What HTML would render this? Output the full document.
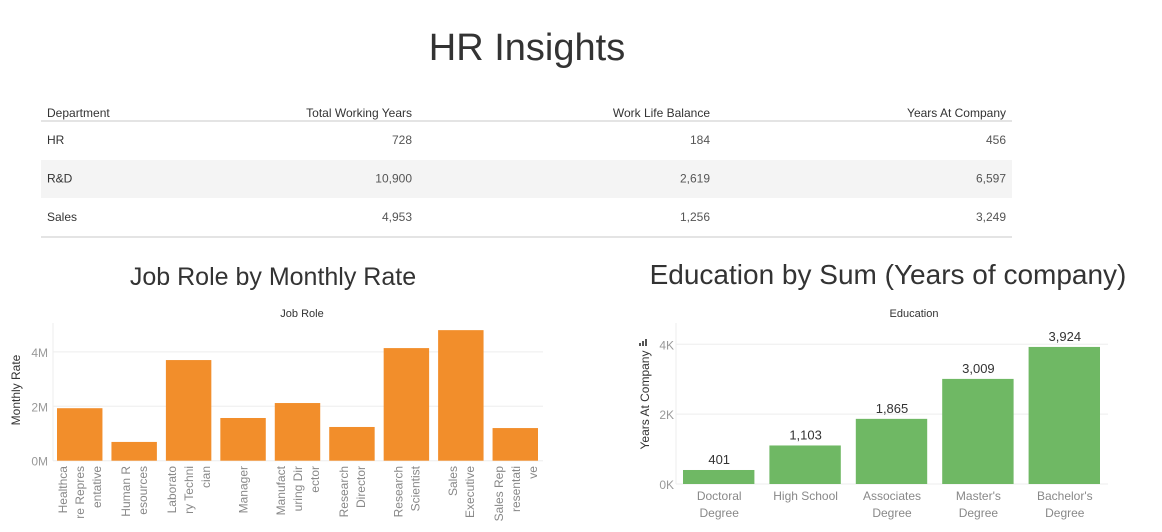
<!DOCTYPE html>
<html><head><meta charset="utf-8"><style>
body{margin:0;background:#fff;font-family:"Liberation Sans",sans-serif;}
svg text{font-family:"Liberation Sans",sans-serif;}
</style></head><body>
<svg id="s" width="1162" height="527" xmlns="http://www.w3.org/2000/svg">
<text x="527" y="60" font-size="38" fill="#333" text-anchor="middle">HR Insights</text>
<g id="tbl">
<rect x="41" y="160" width="971" height="38" fill="#f4f4f4"/>
<line x1="41" y1="121" x2="1012" y2="121" stroke="#c8c8c8"/>
<line x1="41" y1="237" x2="1012" y2="237" stroke="#c8c8c8"/>
<g font-size="12" fill="#333">
<text x="47" y="117">Department</text>
<text x="412" y="117" text-anchor="end">Total Working Years</text>
<text x="710" y="117" text-anchor="end">Work Life Balance</text>
<text x="1006" y="117" text-anchor="end">Years At Company</text>
</g>
</g>
<text x="273" y="285" font-size="25" fill="#333" text-anchor="middle">Job Role by Monthly Rate</text>
<text x="888" y="284" font-size="28" fill="#333" text-anchor="middle">Education by Sum (Years of  company)</text>
<g id="c1"></g>
<g id="c2"></g>
</svg>
<script>
const deptNames=["HR","R&D","Sales"];
const totalWorking=["728","10,900","4,953"];
const workLife=["184","2,619","1,256"];
const yearsAt=["456","6,597","3,249"];
const roleLabels=[["Healthca","re Repres","entative"],["Human R","esources"],["Laborato","ry Techni","cian"],["Manager"],["Manufact","uring Dir","ector"],["Research","Director"],["Research","Scientist"],["Sales","Executive"],["Sales Rep","resentati","ve"]];
const roleValues=[1.93,0.69,3.70,1.57,2.12,1.24,4.14,4.80,1.20];
const roleTicks=[0,2,4];
const eduLabels=[["Doctoral","Degree"],["High School"],["Associates","Degree"],["Master's","Degree"],["Bachelor's","Degree"]];
const eduValues=[401,1103,1865,3009,3924];
const eduTicks=[0,2000,4000];
const NS="http://www.w3.org/2000/svg";
function mk(p,t,a,txt){const e=document.createElementNS(NS,t);for(const k in a)e.setAttribute(k,a[k]);if(txt!==undefined)e.textContent=txt;p.appendChild(e);return e;}
const tbl=document.getElementById('tbl');
deptNames.forEach((d,i)=>{const y=144+i*38.5;
 let e=mk(tbl,'text',{x:47,y:y,'font-size':12,fill:'#333'},d);
 
 
 [[totalWorking,412],[workLife,710],[yearsAt,1006]].forEach(([arr,x])=>{
  let t=mk(tbl,'text',{x:x,y:y,'font-size':12,fill:'#555','text-anchor':'end'},arr[i]);
  
  
 });
});
const c1=document.getElementById('c1');
const x0=53,x1=543,yb=460.7,ppu=27.2;
const y1=v=>yb-v*ppu;
const bw1=(x1-x0)/roleValues.length;
let t=mk(c1,'text',{x:302,y:317,'font-size':11,fill:'#333','text-anchor':'middle'},'Job Role');


t=mk(c1,'text',{x:0,y:0,'font-size':12,fill:'#333','text-anchor':'middle',transform:'translate(20,390) rotate(-90)'},'Monthly Rate');


mk(c1,'line',{x1:x0,y1:323,x2:x0,y2:yb,stroke:'#eee'});
roleTicks.forEach(v=>{
 const g=mk(c1,'line',{x1:x0,y1:y1(v),x2:x1,y2:y1(v),stroke:'#eee'});
 
 
 const tt=mk(c1,'text',{x:48,y:y1(v)+5,'font-size':12,fill:'#999','text-anchor':'end'},v+'M');
 
 
});
roleValues.forEach((v,i)=>{
 const bx=x0+i*bw1+4;
 const r=mk(c1,'rect',{x:bx,y:y1(v),width:bw1-9,height:v*ppu,fill:'#f28e2b'});
 
 
 const cx=x0+i*bw1+bw1/2;const n=roleLabels[i].length;
 roleLabels[i].forEach((s,j)=>{
  const lx=cx+(j-(n-1)/2)*17+4;
  const tl=mk(c1,'text',{x:0,y:0,'font-size':12,fill:'#888','text-anchor':'end',transform:`translate(${lx},466) rotate(-90)`},s);
  
  
 });
});
const c2=document.getElementById('c2');
const ex0=676,ex1=1108,eyb=484,eppu=34.93/1000;
const y2=v=>eyb-v*eppu;
const bw2=(ex1-ex0)/eduValues.length;
t=mk(c2,'text',{x:914,y:317,'font-size':11,fill:'#333','text-anchor':'middle'},'Education');


t=mk(c2,'text',{x:0,y:0,'font-size':12,fill:'#333','text-anchor':'middle',transform:'translate(649,400) rotate(-90)'},'Years At Company');


mk(c2,'rect',{x:639,y:343,width:2,height:3,fill:'#555'});mk(c2,'rect',{x:642,y:341,width:2,height:5,fill:'#555'});mk(c2,'rect',{x:645,y:339,width:2,height:7,fill:'#555'});
mk(c2,'line',{x1:ex0,y1:323,x2:ex0,y2:eyb,stroke:'#eee'});
eduTicks.forEach(v=>{
 const g=mk(c2,'line',{x1:ex0,y1:y2(v),x2:ex1,y2:y2(v),stroke:'#eee'});
 
 
 const tt=mk(c2,'text',{x:674,y:y2(v)+5,'font-size':12,fill:'#999','text-anchor':'end'},(v/1000)+'K');
 
 
});
eduValues.forEach((v,i)=>{
 const bx=ex0+i*bw2+7;
 const r=mk(c2,'rect',{x:bx,y:y2(v),width:bw2-15,height:v*eppu,fill:'#6fb864'});
 
 
 const cx=ex0+i*bw2+bw2/2;
 const lv=mk(c2,'text',{x:cx,y:y2(v)-6,'font-size':13,fill:'#333','text-anchor':'middle'},v.toLocaleString('en-US'));
 
 
 eduLabels[i].forEach((s,j)=>{
  const tl=mk(c2,'text',{x:cx,y:500+j*17,'font-size':12,fill:'#888','text-anchor':'middle'},s);
  
  
 });
});
</script>
</body></html>
